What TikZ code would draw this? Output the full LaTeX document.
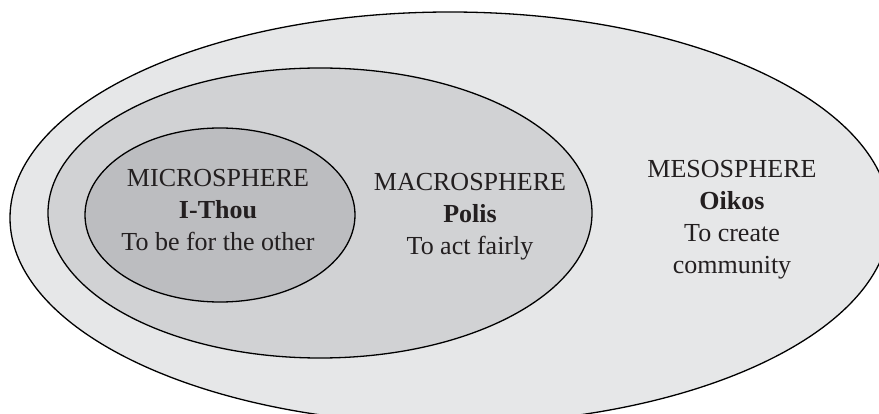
\documentclass[tikz,border=0pt]{standalone}
\usepackage{fontspec}
\setmainfont{Liberation Serif}
\definecolor{outerfill}{HTML}{E6E7E8}
\definecolor{midfill}{HTML}{D1D2D4}
\definecolor{innerfill}{HTML}{BCBDC0}
\definecolor{inktext}{HTML}{231F20}
\begin{document}
\begin{tikzpicture}[x=1pt,y=-1pt,
  sphere/.style={draw=black,line width=1.3pt},
  label/.style={align=center,font=\fontsize{26}{32}\selectfont,text=inktext}]
\useasboundingbox (0,0) rectangle (879,414);
\begin{scope}
\clip (0,0) rectangle (879,414);
\path[sphere,fill=outerfill] (450,218) ellipse [x radius=440,y radius=206];
\path[sphere,fill=midfill] (320,213) ellipse [x radius=272,y radius=145];
\path[sphere,fill=innerfill] (220,215) ellipse [x radius=135,y radius=87];
\end{scope}
\node[label] (micro) at (218,210) {MICROSPHERE\\\textbf{I-Thou}\\To be for the other};
\node[label] (macro) at (470,217) {MACROSPHERE\\\textbf{Polis}\\To act fairly};
\node[label] (meso) at (732,220) {MESOSPHERE\\\textbf{Oikos}\\To create\\community};
\end{tikzpicture}
\end{document}
